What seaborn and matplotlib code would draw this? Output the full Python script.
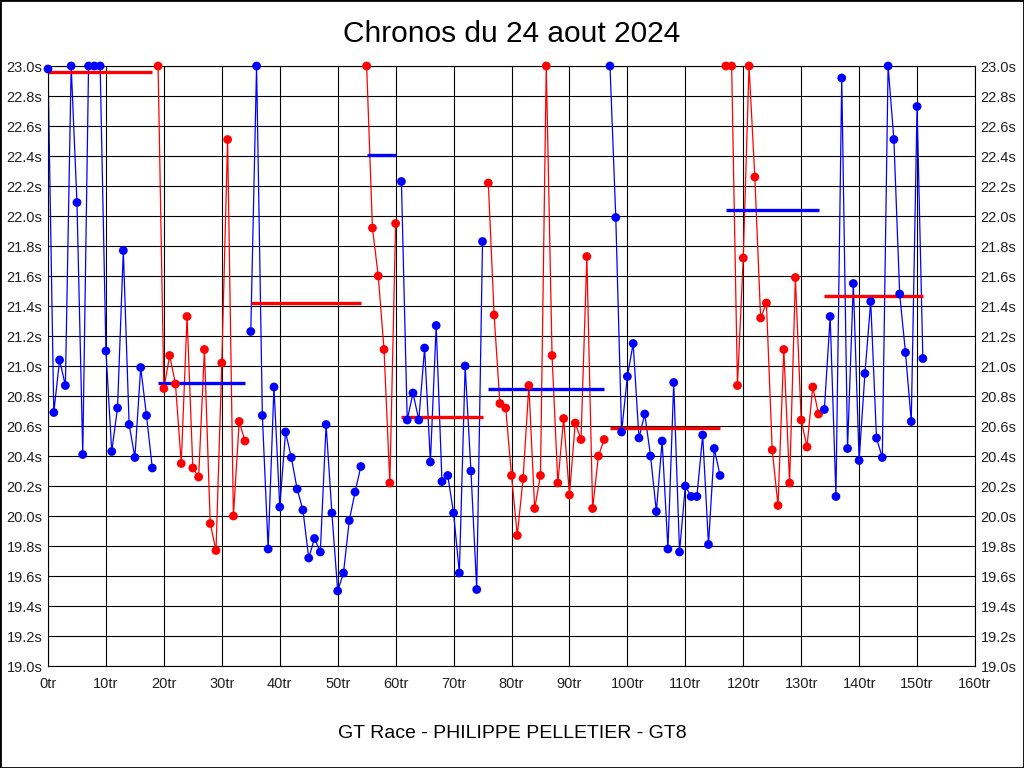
import numpy as np
import pandas as pd
import matplotlib
matplotlib.use("Agg")
import matplotlib.pyplot as plt
from matplotlib.patches import Rectangle
import seaborn as sns

# ---- data ----
title = "Chronos du 24 aout 2024"
xlabel = "GT Race - PHILIPPE PELLETIER - GT8"

stint_start = [0, 19, 35, 55, 61, 76, 97, 117, 134]
stint_color = ["blue", "red", "blue", "red", "blue", "red", "blue", "red", "blue"]
avg_color = ["red", "blue", "red", "blue", "red", "blue", "red", "blue", "red"]

s1 = [22.98, 20.69, 21.04, 20.87, 23.0, 22.09, 20.41, 23.0, 23.0, 23.0, 21.10, 20.43,
      20.72, 21.77, 20.61, 20.39, 20.99, 20.67, 20.32]
s2 = [23.0, 20.85, 21.07, 20.88, 20.35, 21.33, 20.32, 20.26, 21.11, 19.95, 19.77, 21.02,
      22.51, 20.00, 20.63, 20.50]
s3 = [21.23, 23.0, 20.67, 19.78, 20.86, 20.06, 20.56, 20.39, 20.18, 20.04, 19.72, 19.85,
      19.76, 20.61, 20.02, 19.50, 19.62, 19.97, 20.16, 20.33]
s4 = [23.0, 21.92, 21.60, 21.11, 20.22, 21.95]
s5 = [22.23, 20.64, 20.82, 20.64, 21.12, 20.36, 21.27, 20.23, 20.27, 20.02, 19.62, 21.00,
      20.30, 19.51, 21.83]
s6 = [22.22, 21.34, 20.75, 20.72, 20.27, 19.87, 20.25, 20.87, 20.05, 20.27, 23.0, 21.07,
      20.22, 20.65, 20.14, 20.62, 20.51, 21.73, 20.05, 20.40, 20.51]
s7 = [23.0, 21.99, 20.56, 20.93, 21.15, 20.52, 20.68, 20.40, 20.03, 20.50, 19.78, 20.89,
      19.76, 20.20, 20.13, 20.13, 20.54, 19.81, 20.45, 20.27]
s8 = [23.0, 23.0, 20.87, 21.72, 23.0, 22.26, 21.32, 21.42, 20.44, 20.07, 21.11, 20.22,
      21.59, 20.64, 20.46, 20.86, 20.68]
s9 = [20.71, 21.33, 20.13, 22.92, 20.45, 21.55, 20.37, 20.95, 21.43, 20.52, 20.39, 23.0,
      22.51, 21.48, 21.09, 20.63, 22.73, 21.05]
stints = [s1, s2, s3, s4, s5, s6, s7, s8, s9]

stint_avg = [22.96, 20.89, 21.42, 22.41, 20.66, 20.85, 20.59, 22.04, 21.47]

x_ticks = list(range(0, 161, 10))
x_labels = [f"{v}tr" for v in x_ticks]
y_ticks = [round(19.0 + 0.2 * i, 1) for i in range(21)]
y_labels = [f"{v:.1f}s" for v in y_ticks]

# ---- build tables ----
rows = []
for i, (start, vals) in enumerate(zip(stint_start, stints)):
    for j, v in enumerate(vals):
        rows.append({"stint": i, "lap": start + j, "time": v})
df = pd.DataFrame(rows)

arows = []
for i, (start, vals, a) in enumerate(zip(stint_start, stints, stint_avg)):
    arows.append({"stint": i, "lap": start, "avg": a})
    arows.append({"stint": i, "lap": start + len(vals) - 1, "avg": a})
dfa = pd.DataFrame(arows)

pal_pts = {i: c for i, c in enumerate(stint_color)}
pal_avg = {i: c for i, c in enumerate(avg_color)}

# ---- plot ----
sns.set_style("white")
plt.rcParams["font.family"] = ["Liberation Sans", "DejaVu Sans"]

fig = plt.figure(figsize=(10.24, 7.68), dpi=100)
ax = fig.add_axes([48 / 1024, 1 - 666 / 768, (975 - 48) / 1024, 600 / 768])

sns.lineplot(data=df, x="lap", y="time", hue="stint", palette=pal_pts, lw=0.9,
             legend=False, ax=ax, zorder=2, sort=True, estimator=None)
sns.lineplot(data=dfa, x="lap", y="avg", hue="stint", palette=pal_avg, lw=2.4,
             legend=False, ax=ax, zorder=3, estimator=None, solid_capstyle="butt")
sns.scatterplot(data=df, x="lap", y="time", hue="stint", palette=pal_pts, s=40,
                linewidth=0, legend=False, ax=ax, zorder=4, clip_on=False)

ax.set_xlim(0, 160)
ax.set_ylim(19.0, 23.0)
ax.set_xticks(x_ticks)
ax.set_xticklabels(x_labels)
ax.set_yticks(y_ticks)
ax.set_yticklabels(y_labels)
ax.grid(True, color="black", lw=0.8)
ax.set_axisbelow(True)
for sp in ax.spines.values():
    sp.set_visible(True)
    sp.set_color("black")
    sp.set_linewidth(0.8)
ax.tick_params(axis="both", length=0, labelsize=10.5, colors="#202020")
ax.tick_params(axis="x", pad=8)
ax.tick_params(axis="y", labelright=True, right=False, pad=4)
ax.set_xlabel("")
ax.set_ylabel("")

fig.text(0.5, 1 - 34 / 768, title, ha="center", va="center", fontsize=21.5, color="black")
fig.text(0.5, 1 - 733 / 768, xlabel, ha="center", va="center", fontsize=14, color="black")
fig.patches.append(Rectangle((0, 0), 1, 1, transform=fig.transFigure, fill=False,
                             edgecolor="black", lw=2, figure=fig))

fig.savefig("out.png", dpi=100)
